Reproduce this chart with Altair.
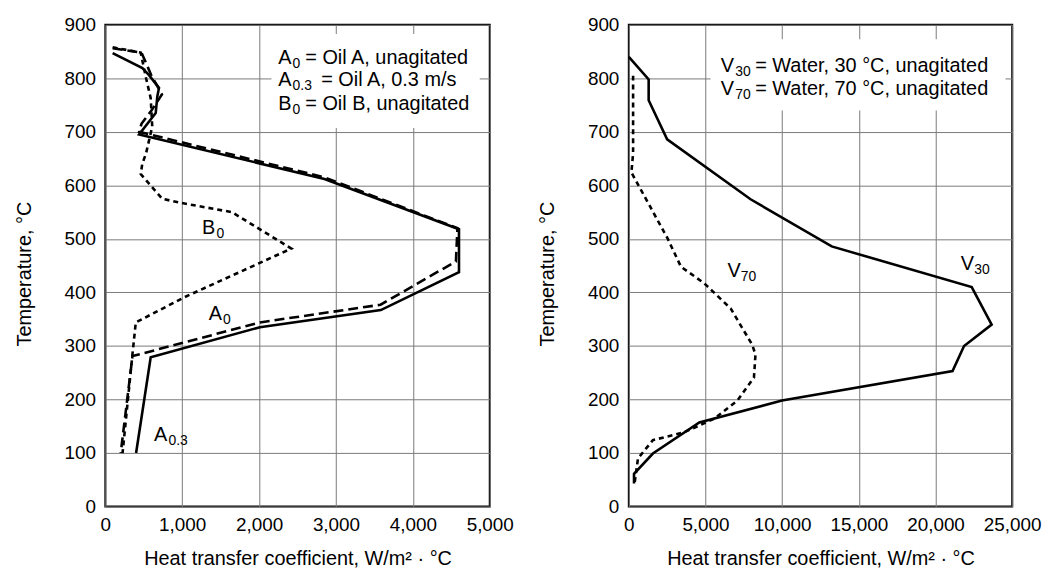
import altair as alt
import pandas as pd

FONT = "Liberation Sans"

# ---------------- data ----------------
# Left panel: oils, heat transfer coefficient (W/m2.C) vs temperature (C)
A0_HTC = [95, 470, 600, 736, 600, 470, 440, 2850, 4580, 4560, 3580, 2010, 353, 200]
A0_TEMP = [856, 848, 805, 770, 740, 715, 700, 615, 520, 458, 377, 344, 281, 100]

A03_HTC = [95, 482, 568, 698, 676, 655, 439, 2850, 4600, 4600, 3583, 2010, 590, 400]
A03_TEMP = [847, 819, 806, 782, 766, 735, 695, 612, 518, 438, 367, 335, 279, 100]

B0_HTC = [95, 460, 530, 590, 610, 530, 480, 461, 740, 956, 1645, 2420, 1042, 396, 353, 224]
B0_TEMP = [858, 848, 800, 763, 710, 660, 640, 621, 575, 568, 550, 482, 392, 344, 285, 100]

# Right panel: water
V30_HTC = [0, 1295, 1295, 2500, 7940, 13230, 22360, 23660, 21860, 21110, 9990, 4600, 1570, 340, 340]
V30_TEMP = [840, 798, 759, 686, 574, 486, 410, 340, 300, 253, 198, 157, 99, 61, 43]

V70_HTC = [280, 280, 170, 1360, 2545, 3400, 4920, 6645, 8050, 8260, 8160, 7080, 5570, 3630, 1570, 600, 390]
V70_TEMP = [805, 660, 624, 562, 500, 448, 417, 370, 302, 284, 241, 198, 164, 139, 124, 90, 46]

LEFT_X_TICKS = [0, 1000, 2000, 3000, 4000, 5000]
RIGHT_X_TICKS = [0, 5000, 10000, 15000, 20000, 25000]
Y_TICKS = [0, 100, 200, 300, 400, 500, 600, 700, 800, 900]

X_TITLE = "Heat transfer coefficient, W/m² · °C"
Y_TITLE = "Temperature, °C"

# legend / label texts: (base, subscript, rest)
LEFT_LEGEND = [("A", "0", "= Oil A, unagitated"),
               ("A", "0.3", "= Oil A, 0.3 m/s"),
               ("B", "0", "= Oil B, unagitated")]
LEFT_LEGEND_X = 2248
LEFT_LEGEND_Y = [827, 785, 740]
LEFT_BOX = dict(x=2160, x2=4870, y=883, y2=707)

RIGHT_LEGEND = [("V", "30", "= Water, 30 °C, unagitated"),
                ("V", "70", "= Water, 70 °C, unagitated")]
RIGHT_LEGEND_X = 5997
RIGHT_LEGEND_Y = [812, 768]
RIGHT_BOX = dict(x=5330, x2=24560, y=873, y2=740)

LEFT_LABELS = [("B", "0", 1257, 510), ("A", "0", 1344, 349), ("A", "0.3", 633, 122)]
RIGHT_LABELS = [("V", "70", 6431, 429), ("V", "30", 21651, 442)]

W, H = 387, 485
TXT = 20
SUB = 14


def series_df(xs, ts):
    return pd.DataFrame({"x": xs, "y": ts, "i": list(range(len(xs)))})


def encodings(xmax, xticks):
    X = alt.X("x:Q", scale=alt.Scale(domain=[0, xmax], nice=False, zero=False),
              axis=alt.Axis(values=xticks, format=",d", title=X_TITLE, labelFlush=False))
    Y = alt.Y("y:Q", scale=alt.Scale(domain=[0, 900], nice=False),
              axis=alt.Axis(values=Y_TICKS, format="d", title=Y_TITLE, titleY=H / 2 + 8))
    return X, Y


def line(df, X, Y, dash=None):
    kw = dict(color="black", strokeWidth=2.6, strokeJoin="miter", strokeCap="butt")
    if dash:
        kw["strokeDash"] = dash
    return alt.Chart(df).mark_line(**kw).encode(x=X, y=Y, order="i:Q")


def text(df, X, Y, size, dx=0, dy=0):
    return alt.Chart(df).mark_text(align="left", baseline="alphabetic", font=FONT,
                                   fontSize=size, dx=dx, dy=dy, color="black").encode(
        x=X, y=Y, text="t:N")


def legend_layers(items, lx, lys, X, Y, rest_dxs, sub_dx):
    layers = []
    for (b, s, r), ly, rdx in zip(items, lys, rest_dxs):
        d = pd.DataFrame({"x": [lx], "y": [ly], "t": [b]})
        layers.append(text(d, X, Y, TXT))
        d2 = pd.DataFrame({"x": [lx], "y": [ly], "t": [s]})
        layers.append(text(d2, X, Y, SUB, dx=sub_dx, dy=4))
        if r:
            d3 = pd.DataFrame({"x": [lx], "y": [ly], "t": [r]})
            layers.append(text(d3, X, Y, TXT, dx=rdx))
    return layers


def box(b, X, Y):
    df = pd.DataFrame({"x": [b["x"]], "x2": [b["x2"]], "y": [b["y"]], "y2": [b["y2"]]})
    return alt.Chart(df).mark_rect(color="white").encode(x=X, x2="x2:Q", y=Y, y2="y2:Q")


# ---------------- left panel ----------------
XL, YL = encodings(5000, LEFT_X_TICKS)
left_layers = [box(LEFT_BOX, XL, YL),
               line(series_df(B0_HTC, B0_TEMP), XL, YL, [5, 4]),
               line(series_df(A0_HTC, A0_TEMP), XL, YL, [10, 5]),
               line(series_df(A03_HTC, A03_TEMP), XL, YL)]
left_layers += legend_layers(LEFT_LEGEND, LEFT_LEGEND_X, LEFT_LEGEND_Y, XL, YL, [27.3, 43.3, 27.3], 14.5)
for b, s, x, y in LEFT_LABELS:
    left_layers += legend_layers([(b, s, "")], x, [y], XL, YL, [0], 14.5)
left = alt.layer(*left_layers).properties(width=W, height=H)

# ---------------- right panel ----------------
XR, YR = encodings(25000, RIGHT_X_TICKS)
right_layers = [box(RIGHT_BOX, XR, YR),
                line(series_df(V70_HTC, V70_TEMP), XR, YR, [5, 4]),
                line(series_df(V30_HTC, V30_TEMP), XR, YR)]
right_layers += legend_layers(RIGHT_LEGEND, RIGHT_LEGEND_X, RIGHT_LEGEND_Y, XR, YR, [34.7, 34.7], 14.5)
for b, s, x, y in RIGHT_LABELS:
    right_layers += legend_layers([(b, s, "")], x, [y], XR, YR, [0], 13.5)
right = alt.layer(*right_layers).properties(width=386, height=H)

chart = alt.hconcat(left, right, spacing=140, bounds="flush").properties(
    padding={"left": 5, "top": 5, "right": 0, "bottom": 0}
).configure_view(
    stroke="black", strokeWidth=2
).configure_axis(
    grid=True, gridColor="#7a7a7a", gridWidth=1, domain=False, ticks=False,
    labelFont=FONT, labelFontSize=19, labelColor="black",
    titleFont=FONT, titleFontSize=20, titleColor="black", titleFontWeight="normal",
).configure_axisY(
    labelPadding=10, titlePadding=30
).configure_axisX(
    labelPadding=9, titlePadding=14
)

chart.save("out.html", embed_options={"renderer": "svg", "actions": False})
